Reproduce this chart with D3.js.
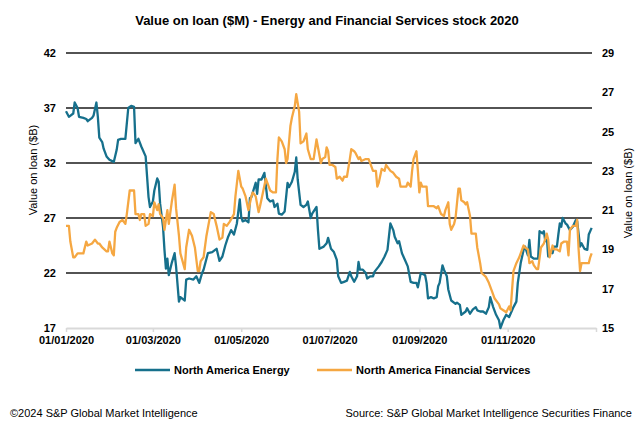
<!DOCTYPE html>
<html>
<head>
<meta charset="utf-8">
<script src="https://cdn.jsdelivr.net/npm/d3@7"></script>
<style>
  html, body { margin: 0; padding: 0; background: #fff; }
  svg { display: block; font-family: Arial, "Liberation Sans", Helvetica, sans-serif; }
</style>
</head>
<body>
<svg id="chart" width="640" height="428"></svg>
<script>
const title = "Value on loan ($M) - Energy and Financial Services stock 2020";
const leftTicks = [17, 22, 27, 32, 37, 42];
const rightTicks = [15, 17, 19, 21, 23, 25, 27, 29];
const xTickDates = ["2020-01-01", "2020-03-01", "2020-05-01", "2020-07-01", "2020-09-01", "2020-11-01", "2021-01-01"];
const seriesNames = ["North America Energy", "North America Financial Services"];

const energyDates = ["2020-01-01","2020-01-03","2020-01-06","2020-01-07","2020-01-09","2020-01-10","2020-01-13","2020-01-15","2020-01-16","2020-01-19","2020-01-20","2020-01-22","2020-01-23","2020-01-24","2020-01-26","2020-01-27","2020-01-29","2020-01-31","2020-02-03","2020-02-05","2020-02-06","2020-02-08","2020-02-11","2020-02-13","2020-02-15","2020-02-17","2020-02-18","2020-02-20","2020-02-22","2020-02-25","2020-02-27","2020-02-28","2020-03-01","2020-03-02","2020-03-04","2020-03-05","2020-03-06","2020-03-08","2020-03-09","2020-03-10","2020-03-11","2020-03-12","2020-03-14","2020-03-16","2020-03-17","2020-03-19","2020-03-20","2020-03-23","2020-03-24","2020-03-26","2020-03-29","2020-03-31","2020-04-02","2020-04-04","2020-04-05","2020-04-08","2020-04-11","2020-04-13","2020-04-14","2020-04-16","2020-04-18","2020-04-20","2020-04-22","2020-04-24","2020-04-26","2020-04-28","2020-04-30","2020-05-01","2020-05-02","2020-05-04","2020-05-06","2020-05-07","2020-05-08","2020-05-11","2020-05-12","2020-05-13","2020-05-15","2020-05-16","2020-05-17","2020-05-19","2020-05-21","2020-05-23","2020-05-24","2020-05-26","2020-05-27","2020-05-29","2020-05-31","2020-06-02","2020-06-03","2020-06-05","2020-06-07","2020-06-08","2020-06-09","2020-06-11","2020-06-13","2020-06-15","2020-06-16","2020-06-18","2020-06-19","2020-06-22","2020-06-23","2020-06-24","2020-06-27","2020-06-29","2020-06-30","2020-07-02","2020-07-04","2020-07-06","2020-07-07","2020-07-09","2020-07-11","2020-07-13","2020-07-15","2020-07-16","2020-07-18","2020-07-20","2020-07-21","2020-07-22","2020-07-24","2020-07-26","2020-07-27","2020-07-29","2020-07-31","2020-08-01","2020-08-04","2020-08-06","2020-08-08","2020-08-10","2020-08-11","2020-08-12","2020-08-14","2020-08-15","2020-08-17","2020-08-18","2020-08-20","2020-08-22","2020-08-24","2020-08-26","2020-08-28","2020-08-30","2020-08-31","2020-09-02","2020-09-05","2020-09-06","2020-09-07","2020-09-09","2020-09-11","2020-09-13","2020-09-14","2020-09-15","2020-09-17","2020-09-18","2020-09-20","2020-09-21","2020-09-23","2020-09-26","2020-09-27","2020-09-29","2020-09-30","2020-10-03","2020-10-04","2020-10-06","2020-10-08","2020-10-10","2020-10-11","2020-10-13","2020-10-15","2020-10-17","2020-10-19","2020-10-20","2020-10-22","2020-10-24","2020-10-26","2020-10-27","2020-10-29","2020-10-31","2020-11-02","2020-11-03","2020-11-05","2020-11-07","2020-11-08","2020-11-10","2020-11-12","2020-11-13","2020-11-15","2020-11-16","2020-11-17","2020-11-19","2020-11-22","2020-11-23","2020-11-25","2020-11-26","2020-11-27","2020-11-28","2020-11-29","2020-11-30","2020-12-02","2020-12-03","2020-12-05","2020-12-06","2020-12-07","2020-12-08","2020-12-09","2020-12-11","2020-12-12","2020-12-14","2020-12-16","2020-12-18","2020-12-19","2020-12-21","2020-12-22","2020-12-24","2020-12-26","2020-12-27","2020-12-29"];
const energyValues = [36.7,36.2,36.5,37.5,37.0,36.2,36.1,36.0,35.8,36.1,36.3,37.5,36.2,34.3,33.9,33.3,32.6,32.3,32.1,33.2,34.1,34.2,34.2,37.0,37.2,37.1,33.8,34.2,33.5,32.6,28.9,28.0,28.5,29.5,30.6,30.3,28.3,26.2,24.1,22.4,23.3,21.8,22.9,23.8,22.6,19.4,19.8,19.5,21.4,21.5,21.4,21.7,21.1,22.0,22.3,23.8,23.9,24.1,24.2,23.1,23.5,24.5,25.3,25.9,25.5,26.5,28.7,27.1,26.7,26.8,26.6,28.8,28.9,30.2,29.2,30.5,30.5,30.8,31.1,28.8,28.5,28.6,28.0,28.3,27.4,27.3,27.6,30.2,29.8,30.3,31.2,32.5,30.5,28.2,28.0,28.2,28.5,27.0,27.4,28.0,25.9,24.2,24.4,24.7,25.2,24.2,23.9,23.2,21.7,21.1,21.2,21.3,22.1,21.7,21.2,21.7,23.0,22.3,22.3,22.0,21.5,21.7,21.7,22.1,22.6,23.0,23.5,24.1,25.3,26.5,25.9,25.3,24.7,24.9,23.8,23.2,22.6,21.2,21.1,21.1,20.7,22.0,21.8,21.1,19.7,19.8,19.7,19.8,20.8,21.1,22.7,22.3,21.7,20.5,19.5,19.2,19.3,19.1,18.2,18.5,18.8,18.3,18.7,18.9,18.6,18.5,18.5,18.3,18.9,19.8,18.9,18.2,17.7,17.0,17.7,18.2,18.0,18.3,18.9,19.4,21.1,22.9,24.1,24.4,23.6,25.0,23.5,23.3,23.3,25.8,25.6,25.8,24.9,25.3,23.5,23.9,23.8,24.4,24.4,25.5,26.5,26.2,27.0,26.5,26.4,25.9,26.2,26.8,26.7,24.4,24.7,24.2,24.1,25.5,26.1];

const finDates = ["2020-01-01","2020-01-03","2020-01-04","2020-01-06","2020-01-07","2020-01-09","2020-01-13","2020-01-15","2020-01-16","2020-01-19","2020-01-21","2020-01-23","2020-01-24","2020-01-26","2020-01-29","2020-01-30","2020-01-31","2020-02-02","2020-02-03","2020-02-04","2020-02-05","2020-02-07","2020-02-09","2020-02-11","2020-02-12","2020-02-14","2020-02-17","2020-02-18","2020-02-20","2020-02-21","2020-02-22","2020-02-24","2020-02-25","2020-02-27","2020-02-28","2020-03-01","2020-03-02","2020-03-04","2020-03-05","2020-03-06","2020-03-08","2020-03-09","2020-03-11","2020-03-12","2020-03-14","2020-03-16","2020-03-17","2020-03-19","2020-03-20","2020-03-23","2020-03-24","2020-03-26","2020-03-28","2020-03-30","2020-04-01","2020-04-02","2020-04-03","2020-04-05","2020-04-07","2020-04-10","2020-04-12","2020-04-14","2020-04-16","2020-04-18","2020-04-19","2020-04-21","2020-04-23","2020-04-26","2020-04-27","2020-04-29","2020-05-01","2020-05-02","2020-05-04","2020-05-06","2020-05-08","2020-05-09","2020-05-11","2020-05-13","2020-05-14","2020-05-16","2020-05-18","2020-05-20","2020-05-21","2020-05-23","2020-05-25","2020-05-26","2020-05-27","2020-05-29","2020-05-31","2020-06-01","2020-06-02","2020-06-04","2020-06-05","2020-06-07","2020-06-08","2020-06-10","2020-06-11","2020-06-13","2020-06-15","2020-06-16","2020-06-18","2020-06-20","2020-06-22","2020-06-23","2020-06-25","2020-06-26","2020-06-28","2020-06-29","2020-06-30","2020-07-01","2020-07-03","2020-07-05","2020-07-06","2020-07-08","2020-07-10","2020-07-11","2020-07-13","2020-07-15","2020-07-16","2020-07-18","2020-07-19","2020-07-21","2020-07-22","2020-07-23","2020-07-26","2020-07-28","2020-07-30","2020-07-31","2020-08-02","2020-08-03","2020-08-04","2020-08-06","2020-08-08","2020-08-09","2020-08-11","2020-08-12","2020-08-14","2020-08-16","2020-08-18","2020-08-19","2020-08-21","2020-08-23","2020-08-24","2020-08-26","2020-08-27","2020-08-28","2020-08-30","2020-08-31","2020-09-01","2020-09-02","2020-09-03","2020-09-06","2020-09-07","2020-09-09","2020-09-11","2020-09-13","2020-09-14","2020-09-16","2020-09-18","2020-09-19","2020-09-21","2020-09-22","2020-09-23","2020-09-25","2020-09-26","2020-09-28","2020-09-29","2020-09-30","2020-10-02","2020-10-03","2020-10-04","2020-10-06","2020-10-07","2020-10-10","2020-10-11","2020-10-13","2020-10-14","2020-10-17","2020-10-19","2020-10-21","2020-10-23","2020-10-26","2020-10-27","2020-10-29","2020-10-31","2020-11-02","2020-11-03","2020-11-04","2020-11-05","2020-11-07","2020-11-09","2020-11-10","2020-11-12","2020-11-13","2020-11-15","2020-11-16","2020-11-18","2020-11-19","2020-11-21","2020-11-22","2020-11-24","2020-11-26","2020-11-28","2020-11-29","2020-11-30","2020-12-02","2020-12-03","2020-12-05","2020-12-07","2020-12-08","2020-12-10","2020-12-12","2020-12-13","2020-12-14","2020-12-16","2020-12-18","2020-12-19","2020-12-20","2020-12-21","2020-12-22","2020-12-25","2020-12-27","2020-12-28","2020-12-29"];
const finValues = [20.2,20.2,19.4,18.6,18.6,18.8,18.8,19.4,19.2,19.3,19.5,19.3,19.3,19.1,18.9,18.9,19.4,18.8,18.7,19.9,20.1,20.4,20.5,20.3,20.8,22.0,22.0,20.8,20.8,20.5,20.8,20.8,20.2,20.3,20.8,20.7,21.4,21.0,21.3,20.8,20.6,20.0,21.0,20.3,21.4,22.3,21.1,19.7,18.8,18.0,19.1,20.0,19.7,19.1,17.9,17.9,18.4,18.6,19.7,20.9,20.8,20.2,19.5,19.6,20.3,20.2,20.4,20.8,21.7,23.0,22.2,22.1,21.7,21.0,21.7,21.9,21.7,20.9,21.2,21.9,22.6,22.2,22.0,21.9,21.9,23.6,24.7,24.5,24.1,23.4,23.6,25.3,25.7,26.3,26.9,26.0,24.4,24.5,24.9,24.1,23.6,23.6,24.6,24.2,23.4,23.6,23.7,24.2,24.0,23.3,23.3,23.2,22.6,22.7,22.5,22.7,22.7,23.6,24.1,24.0,23.9,23.6,23.7,23.5,23.6,23.6,23.2,23.0,23.0,22.2,22.4,23.1,23.0,23.3,23.1,23.0,22.9,22.7,22.6,22.2,22.2,22.2,22.4,22.2,23.0,23.6,24.0,23.0,21.9,22.4,22.2,22.2,21.2,21.2,21.2,21.1,21.2,20.8,20.7,21.0,21.4,20.3,20.0,20.3,20.6,22.1,22.1,21.5,21.4,21.3,21.4,20.7,19.8,19.8,19.1,18.3,17.8,17.6,17.3,16.9,16.5,16.2,16.0,15.9,15.8,16.1,15.9,16.9,17.9,18.3,18.6,18.8,19.2,19.1,19.0,18.3,18.4,18.2,18.0,18.0,19.1,19.3,19.8,19.5,18.6,19.2,19.0,19.0,18.9,19.3,19.4,19.4,18.7,20.0,20.2,20.2,20.5,19.0,17.9,18.3,18.3,18.3,18.6,18.8];

const colors = { energy: "#16708c", fin: "#f5a742" };
const parse = d3.timeParse("%Y-%m-%d");
const fmt = d3.timeFormat("%d/%m/%Y");

const energy = energyDates.map((d, i) => ({ date: parse(d), value: energyValues[i] }));
const fin = finDates.map((d, i) => ({ date: parse(d), value: finValues[i] }));

const svg = d3.select("#chart");
const plotLeft = 66, plotRight = 596, gridRight = 592, plotTop = 53, plotBottom = 328;

const x = d3.scaleTime().domain([parse("2020-01-01"), parse("2021-01-01")]).range([plotLeft, plotRight]);
const yL = d3.scaleLinear().domain([17, 42]).range([plotBottom, plotTop]);
const yR = d3.scaleLinear().domain([15, 29]).range([plotBottom, plotTop]);

// Title
svg.append("text").attr("x", 327).attr("y", 25).attr("text-anchor", "middle")
  .attr("font-size", 13).attr("font-weight", "bold").attr("fill", "#000").text(title);

// Gridlines
svg.append("g").selectAll("line").data(leftTicks.filter(t => t > 17)).join("line")
  .attr("x1", plotLeft).attr("x2", gridRight)
  .attr("y1", d => yL(d)).attr("y2", d => yL(d))
  .attr("stroke", "#1a1a1a").attr("stroke-width", 1.5);

// X axis
const xAxis = d3.axisBottom(x).tickValues(xTickDates.map(parse))
  .tickFormat(d => d.getFullYear() === 2021 ? "" : fmt(d))
  .tickSizeInner(4).tickSizeOuter(0).tickPadding(4);
const gx = svg.append("g").attr("transform", `translate(0,${plotBottom})`).call(xAxis);
gx.select(".domain").attr("stroke", "#d9d9d9").attr("stroke-width", 2);
gx.selectAll(".tick line").attr("stroke", "#d9d9d9").attr("stroke-width", 1.5);
gx.selectAll("text").attr("font-size", 11).attr("font-weight", "bold").attr("fill", "#000")
  .attr("font-family", "Arial, 'Liberation Sans', sans-serif");

// Left axis labels
const gl = svg.append("g").attr("transform", `translate(${plotLeft},0)`)
  .call(d3.axisLeft(yL).tickValues(leftTicks).tickSize(0).tickPadding(10));
gl.select(".domain").remove();
gl.selectAll("text").attr("font-size", 11).attr("font-weight", "bold").attr("fill", "#000")
  .attr("font-family", "Arial, 'Liberation Sans', sans-serif");

// Right axis labels
const gr = svg.append("g").attr("transform", `translate(${plotRight},0)`)
  .call(d3.axisRight(yR).tickValues(rightTicks).tickSize(0).tickPadding(6));
gr.select(".domain").remove();
gr.selectAll("text").attr("font-size", 11).attr("font-weight", "bold").attr("fill", "#000")
  .attr("font-family", "Arial, 'Liberation Sans', sans-serif");

// Axis titles
svg.append("text").attr("transform", "translate(37,170) rotate(-90)").attr("text-anchor", "middle")
  .attr("font-size", 11).attr("fill", "#000").text("Value on loan ($B)");
svg.append("text").attr("transform", "translate(632,193) rotate(-90)").attr("text-anchor", "middle")
  .attr("font-size", 11).attr("fill", "#000").text("Value on loan ($B)");

// Lines
const lineL = d3.line().x(d => x(d.date)).y(d => yL(d.value));
const lineR = d3.line().x(d => x(d.date)).y(d => yR(d.value));
svg.append("path").datum(energy).attr("d", lineL).attr("fill", "none")
  .attr("stroke", colors.energy).attr("stroke-width", 2.3).attr("stroke-linejoin", "round");
svg.append("path").datum(fin).attr("d", lineR).attr("fill", "none")
  .attr("stroke", colors.fin).attr("stroke-width", 2.3).attr("stroke-linejoin", "round");

// Legend
const legend = [
  { name: seriesNames[0], color: colors.energy, x: 135 },
  { name: seriesNames[1], color: colors.fin, x: 317 }
];
const lg = svg.append("g");
legend.forEach(l => {
  lg.append("line").attr("x1", l.x).attr("x2", l.x + 35).attr("y1", 370).attr("y2", 370)
    .attr("stroke", l.color).attr("stroke-width", 2.5);
  lg.append("text").attr("x", l.x + 39).attr("y", 374).attr("font-size", 11).attr("font-weight", "bold")
    .attr("fill", "#000").text(l.name);
});

// Footer
svg.append("text").attr("x", 10).attr("y", 417).attr("font-size", 11).attr("fill", "#000")
  .text("©2024 S&P Global Market Intelligence");
svg.append("text").attr("x", 632).attr("y", 417).attr("text-anchor", "end").attr("font-size", 11).attr("fill", "#000")
  .text("Source: S&P Global Market Intelligence Securities Finance");
</script>
</body>
</html>
